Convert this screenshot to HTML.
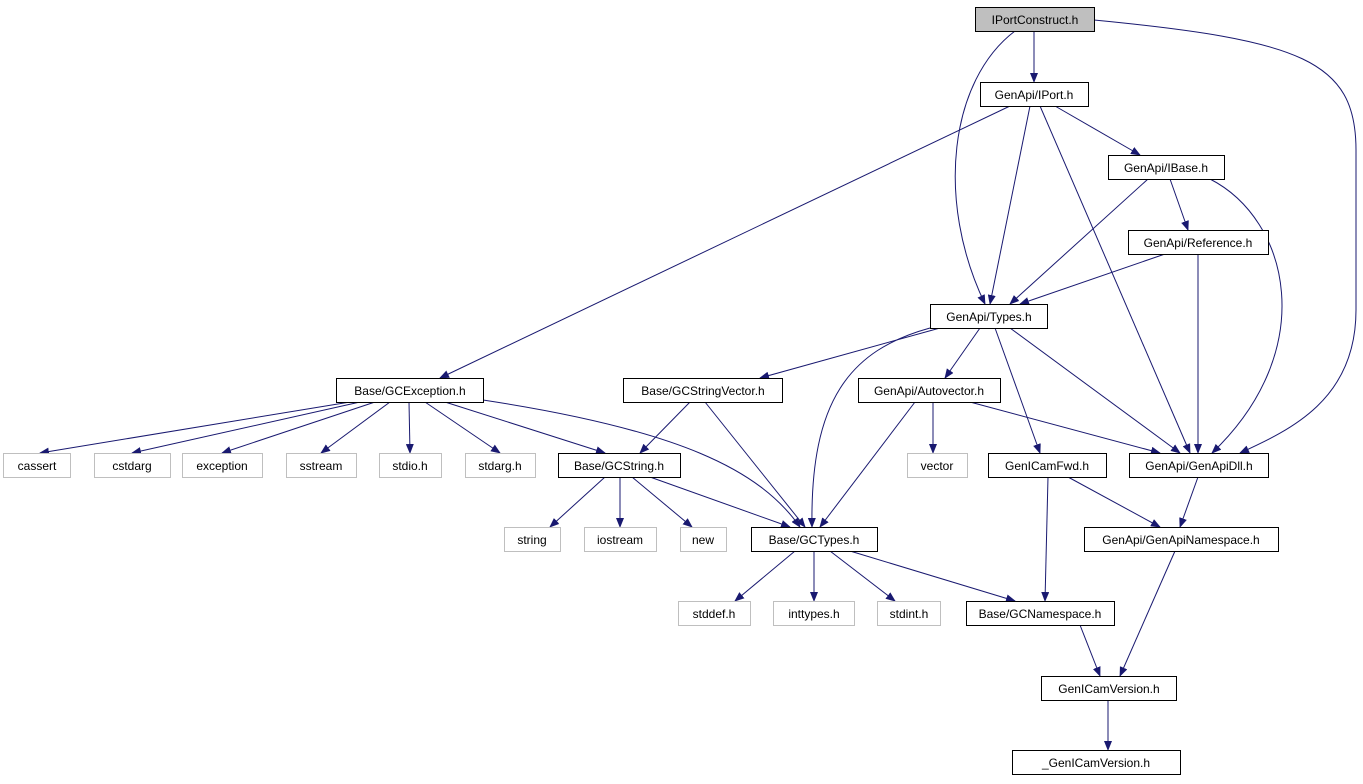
<!DOCTYPE html>
<html><head><meta charset="utf-8"><style>
html,body{margin:0;padding:0;background:#fff;}
svg{display:block;}
text{font-family:"Liberation Sans",sans-serif;font-size:12px;text-anchor:middle;fill:#000;}
.n{fill:#fff;stroke:#000;stroke-width:1;}
.g{fill:#fff;stroke:#bfbfbf;stroke-width:1;}
.e{fill:none;stroke:#191970;stroke-width:1;marker-end:url(#a);}
</style></head><body>
<svg width="1363" height="784" viewBox="0 0 1363 784" xmlns="http://www.w3.org/2000/svg">
<defs><marker id="a" markerWidth="10" markerHeight="8" refX="9" refY="4" orient="auto" markerUnits="userSpaceOnUse"><path d="M0,0 L10,4 L0,8 z" fill="#191970"/></marker></defs>
<!-- edges -->
<path class="e" d="M1034,31 L1034,82"/>
<path class="e" d="M1015,31 C950,80 935,200 985,304"/>
<path class="e" d="M1094,20 C1300,40 1356,60 1356,150 L1356,310 C1356,400 1290,430 1240,453"/>
<path class="e" d="M1010,106 L440,378"/>
<path class="e" d="M1030,106 L990,304"/>
<path class="e" d="M1040,106 L1190,453"/>
<path class="e" d="M1055,106 L1140,155"/>
<path class="e" d="M1148,179 L1010,304"/>
<path class="e" d="M1170,179 L1188,230"/>
<path class="e" d="M1210,179 C1290,220 1320,350 1212,453"/>
<path class="e" d="M1165,254 L1020,304"/>
<path class="e" d="M1198,254 L1198,453"/>
<path class="e" d="M940,328 L760,378"/>
<path class="e" d="M930,328 C850,350 810,400 812,527"/>
<path class="e" d="M980,328 L945,378"/>
<path class="e" d="M995,328 L1040,453"/>
<path class="e" d="M1010,328 L1180,453"/>
<path class="e" d="M350,402 L40,453"/>
<path class="e" d="M360,402 L132,453"/>
<path class="e" d="M375,402 L222,453"/>
<path class="e" d="M390,402 L321,453"/>
<path class="e" d="M409,402 L410,453"/>
<path class="e" d="M425,402 L500,453"/>
<path class="e" d="M445,402 L605,453"/>
<path class="e" d="M483,400 C680,430 760,470 800,527"/>
<path class="e" d="M690,402 L640,453"/>
<path class="e" d="M705,402 L805,527"/>
<path class="e" d="M933,402 L933,453"/>
<path class="e" d="M915,402 L820,527"/>
<path class="e" d="M970,402 L1160,453"/>
<path class="e" d="M605,477 L550,527"/>
<path class="e" d="M620,477 L620,527"/>
<path class="e" d="M632,477 L692,527"/>
<path class="e" d="M650,477 L790,527"/>
<path class="e" d="M1048,477 L1045,601"/>
<path class="e" d="M1068,477 L1160,527"/>
<path class="e" d="M1198,477 L1180,527"/>
<path class="e" d="M795,551 L735,601"/>
<path class="e" d="M814,551 L814,601"/>
<path class="e" d="M830,551 L895,601"/>
<path class="e" d="M850,551 L1015,601"/>
<path class="e" d="M1080,625 L1100,676"/>
<path class="e" d="M1175,551 L1120,676"/>
<path class="e" d="M1108,700 L1108,750"/>
<!-- nodes -->
<rect x="975.5" y="7.5" width="119" height="24" fill="#bfbfbf" stroke="#000"/><text x="1035" y="24">IPortConstruct.h</text>
<rect class="n" x="980.5" y="82.5" width="108" height="24"/><text x="1034" y="99">GenApi/IPort.h</text>
<rect class="n" x="1108.5" y="155.5" width="116" height="24"/><text x="1166" y="172">GenApi/IBase.h</text>
<rect class="n" x="1128.5" y="230.5" width="140" height="24"/><text x="1198" y="247">GenApi/Reference.h</text>
<rect class="n" x="930.5" y="304.5" width="117" height="24"/><text x="989" y="321">GenApi/Types.h</text>
<rect class="n" x="336.5" y="378.5" width="147" height="24"/><text x="410" y="395">Base/GCException.h</text>
<rect class="n" x="623.5" y="378.5" width="159" height="24"/><text x="703" y="395">Base/GCStringVector.h</text>
<rect class="n" x="858.5" y="378.5" width="142" height="24"/><text x="929" y="395">GenApi/Autovector.h</text>
<rect class="g" x="3.5" y="453.5" width="67" height="24"/><text x="37" y="470" fill="#000">cassert</text>
<rect class="g" x="94.5" y="453.5" width="76" height="24"/><text x="132" y="470">cstdarg</text>
<rect class="g" x="182.5" y="453.5" width="80" height="24"/><text x="222" y="470">exception</text>
<rect class="g" x="286.5" y="453.5" width="70" height="24"/><text x="321" y="470">sstream</text>
<rect class="g" x="379.5" y="453.5" width="62" height="24"/><text x="410" y="470">stdio.h</text>
<rect class="g" x="465.5" y="453.5" width="70" height="24"/><text x="500" y="470">stdarg.h</text>
<rect class="n" x="558.5" y="453.5" width="122" height="24"/><text x="619" y="470">Base/GCString.h</text>
<rect class="g" x="907.5" y="453.5" width="60" height="24"/><text x="937" y="470">vector</text>
<rect class="n" x="988.5" y="453.5" width="118" height="24"/><text x="1047" y="470">GenICamFwd.h</text>
<rect class="n" x="1129.5" y="453.5" width="139" height="24"/><text x="1199" y="470">GenApi/GenApiDll.h</text>
<rect class="g" x="504.5" y="527.5" width="56" height="24"/><text x="532" y="544">string</text>
<rect class="g" x="584.5" y="527.5" width="72" height="24"/><text x="620" y="544">iostream</text>
<rect class="g" x="680.5" y="527.5" width="46" height="24"/><text x="703" y="544">new</text>
<rect class="n" x="751.5" y="527.5" width="126" height="24"/><text x="814" y="544">Base/GCTypes.h</text>
<rect class="n" x="1084.5" y="527.5" width="194" height="24"/><text x="1181" y="544">GenApi/GenApiNamespace.h</text>
<rect class="g" x="678.5" y="601.5" width="72" height="24"/><text x="714" y="618">stddef.h</text>
<rect class="g" x="773.5" y="601.5" width="81" height="24"/><text x="814" y="618">inttypes.h</text>
<rect class="g" x="877.5" y="601.5" width="63" height="24"/><text x="909" y="618">stdint.h</text>
<rect class="n" x="966.5" y="601.5" width="148" height="24"/><text x="1040" y="618">Base/GCNamespace.h</text>
<rect class="n" x="1041.5" y="676.5" width="135" height="24"/><text x="1109" y="693">GenICamVersion.h</text>
<rect class="n" x="1012.5" y="750.5" width="168" height="24"/><text x="1096" y="767">_GenICamVersion.h</text>
</svg>
</body></html>
